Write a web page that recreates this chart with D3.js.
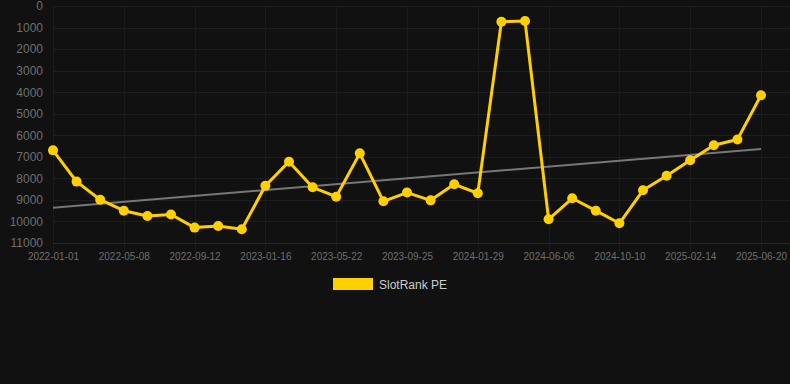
<!DOCTYPE html>
<html><head><meta charset="utf-8">
<script src="https://cdn.jsdelivr.net/npm/d3@7"></script>
<style>html,body{margin:0;padding:0;background:#111111;}svg{display:block;}</style>
</head><body>
<svg id="c" width="790" height="384"></svg>
<script>
const dates = ["2022-01-01","2022-02-12","2022-03-26","2022-05-08","2022-06-19","2022-07-31","2022-09-12","2022-10-24","2022-12-05","2023-01-16","2023-02-27","2023-04-10","2023-05-22","2023-07-03","2023-08-14","2023-09-25","2023-11-06","2023-12-18","2024-01-29","2024-03-11","2024-04-23","2024-06-06","2024-07-18","2024-08-29","2024-10-10","2024-11-21","2025-01-02","2025-02-14","2025-03-28","2025-05-09","2025-06-20"];
const rankValues = [6700,8150,8990,9500,9745,9680,10285,10210,10365,8340,7225,8415,8850,6840,9065,8660,9020,8275,8690,728,696,9900,8925,9500,10085,8555,7875,7160,6465,6200,4145];
const trendValues = [9360,6635];
const yTicks = [0,1000,2000,3000,4000,5000,6000,7000,8000,9000,10000,11000];
const seriesName = "SlotRank PE";

(function(){
const svg = d3.select("#c");
const mLeft = 53, mRight = 761, mTop = 6, mBottom = 243;
const x = d3.scalePoint().domain(dates).range([mLeft, mRight]);
const y = d3.scaleLinear().domain([0, 11000]).range([mTop, mBottom]);
const tickDates = dates.filter((d,i)=>i%3===0);

// grid
svg.append("g").selectAll("line").data(tickDates).join("line")
  .attr("x1", d=>Math.round(x(d))+0.5).attr("x2", d=>Math.round(x(d))+0.5).attr("y1", mTop).attr("y2", mBottom+8)
  .attr("stroke", "#1b1b1b").attr("stroke-width", 1);
svg.append("g").selectAll("line").data(yTicks).join("line")
  .attr("x1", mLeft).attr("x2", 790).attr("y1", d=>Math.round(y(d))+0.5).attr("y2", d=>Math.round(y(d))+0.5)
  .attr("stroke", (d,i)=> i===yTicks.length-1 ? "#262626" : "#1e1e1e").attr("stroke-width", 1);

// y axis labels
const yAxis = d3.axisLeft(y).tickValues(yTicks).tickSize(0).tickPadding(10).tickFormat(d3.format("d"));
const gy = svg.append("g").attr("transform", `translate(${mLeft},0)`).call(yAxis);
gy.select(".domain").remove();
gy.selectAll("text").attr("fill", "#6e6e6e").style("font-family", "Arial, 'Liberation Sans', sans-serif").style("font-size", "12px");

// x axis labels
const xAxis = d3.axisBottom(x).tickValues(tickDates).tickSize(0).tickPadding(10);
const gx = svg.append("g").attr("transform", `translate(0,${mBottom})`).call(xAxis);
gx.select(".domain").remove();
gx.selectAll("text").attr("fill", "#6e6e6e").style("font-family", "Arial, 'Liberation Sans', sans-serif").style("font-size", "10px");

// trend line
svg.append("line")
  .attr("x1", x(dates[0])).attr("y1", y(trendValues[0]))
  .attr("x2", x(dates[dates.length-1])).attr("y2", y(trendValues[1]))
  .attr("stroke", "#777777").attr("stroke-width", 2);

// series line
const line = d3.line().x((d,i)=>x(dates[i])).y(d=>y(d));
svg.append("path").datum(rankValues).attr("d", line)
  .attr("fill", "none").attr("stroke", "#ffd000").attr("stroke-width", 3).attr("stroke-linejoin", "round");
svg.append("g").selectAll("circle").data(rankValues).join("circle")
  .attr("cx", (d,i)=>x(dates[i])).attr("cy", d=>y(d)).attr("r", 5).attr("fill", "#ffd000");

// legend
const lg = svg.append("g");
lg.append("rect").attr("x", 333).attr("y", 278).attr("width", 40).attr("height", 12).attr("fill", "#ffd000");
lg.append("text").attr("x", 379).attr("y", 288.5).text(seriesName)
  .attr("fill", "#cccccc").style("font-family", "Arial, 'Liberation Sans', sans-serif").style("font-size", "12px");
})();
</script>
</body></html>
